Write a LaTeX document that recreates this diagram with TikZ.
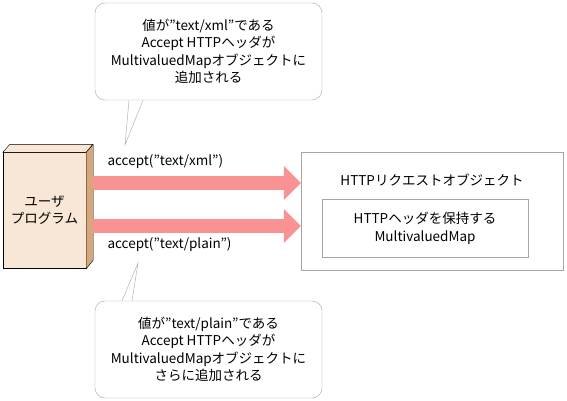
\documentclass[tikz,border=0pt]{standalone}
\usepackage{fontspec}
\setmainfont{Noto Sans CJK JP}
\usetikzlibrary{arrows.meta}
\definecolor{facePeach}{HTML}{F8E6D6}
\definecolor{sideTan}{HTML}{D6A77A}
\definecolor{arrowPink}{HTML}{F99393}
\definecolor{lineGray}{HTML}{A6A6A6}
\tikzset{
  callout/.style={draw=lineGray,fill=white,rounded corners=10pt,minimum width=227pt,minimum height=97pt,align=center,font=\fontsize{13.5}{17.5}\selectfont},
  objbox/.style={draw=lineGray,fill=white,align=center,font=\fontsize{13.5}{18}\selectfont},
  bigarrow/.style={arrowPink,line width=14pt,-{Triangle[length=17pt,width=33pt]}},
  calllabel/.style={anchor=west,font=\fontsize{13.5}{14}\selectfont}
}

\begin{document}
\begin{tikzpicture}[x=1pt,y=-1pt]
\useasboundingbox (0,0) rectangle (567,401);
%user program
\node[draw,fill=facePeach,minimum width=83pt,minimum height=116pt,inner sep=0pt,align=center,font=\fontsize{13.5}{17}\selectfont] (user) at (44.5,210.5) {ユーザ\\プログラム};
\filldraw[fill=facePeach] (user.north west)--++(7,-8)--++(83,0)--(user.north east)--cycle;
\filldraw[fill=sideTan] (user.north east)--++(7,-8)--++(0,116)--(user.south east)--cycle;
%object
\node[objbox,minimum width=262pt,minimum height=118pt] (obj) at (432,211) {};
\node[font=\fontsize{13.5}{18}\selectfont] (objtitle) at (432,180) {HTTPリクエストオブジェクト};
\node[objbox,minimum width=206pt,minimum height=58pt] (headermap) at (425,228) {HTTPヘッダを保持する\\MultivaluedMap};
%arrows
\coordinate (xmlstart) at (93,183);
\coordinate (plainstart) at (93,226);
\draw[bigarrow] (xmlstart)--(obj.west |- xmlstart);
\draw[bigarrow] (plainstart)--(obj.west |- plainstart);
\node[calllabel] (xmllabel) at (104,162) {accept("text/xml")};
\node[calllabel] (plainlabel) at (104,245) {accept("text/plain")};
%callouts
\node[callout] (callxml) at (208.5,51.5) {値が"text/xml"である\\Accept HTTPヘッダが\\MultivaluedMapオブジェクトに\\追加される};
\draw[lineGray] ([xshift=-79.5pt]callxml.south)--(125,145)coordinate(xmltip)--([xshift=-65.5pt]callxml.south);
\node[callout] (callplain) at (208.5,349.5) {値が"text/plain"である\\Accept HTTPヘッダが\\MultivaluedMapオブジェクトに\\さらに追加される};
\draw[lineGray] ([xshift=-86.5pt]callplain.north)--(138,263)coordinate(plaintip)--([xshift=-76.5pt]callplain.north);
\end{tikzpicture}
\end{document}
